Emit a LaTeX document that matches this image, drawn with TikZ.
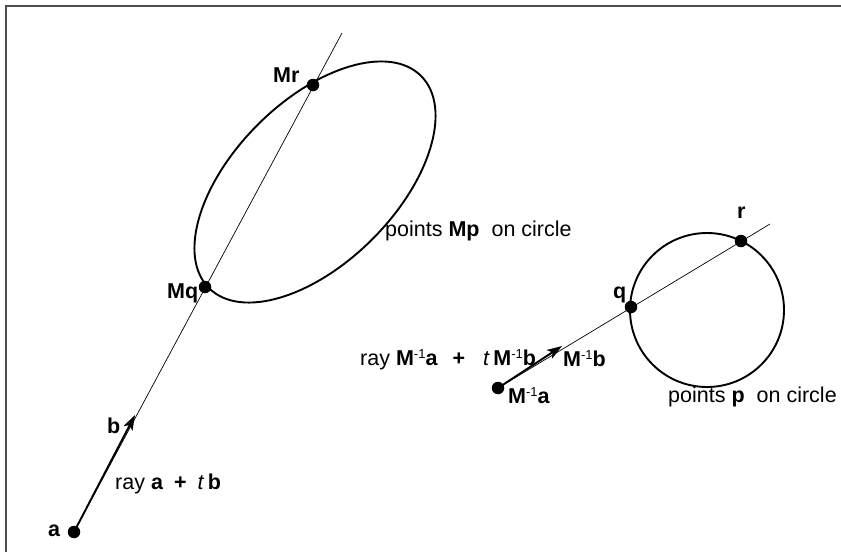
\documentclass[tikz,border=0pt]{standalone}
\usepackage{fontspec}
\setmainfont{Liberation Sans}
\usetikzlibrary{arrows.meta}
\newcommand\supm{\raisebox{6.5pt}{\fontsize{13}{13}\selectfont -1}}
\begin{document}
\begin{tikzpicture}[x=1pt,y=-1pt,
  dot/.style={circle,fill=black,inner sep=0pt,minimum size=12.5pt},
  lbl/.style={anchor=base west,inner sep=0pt,font=\fontsize{21.5}{26}\selectfont},
  thinray/.style={line width=0.7pt},
  vec/.style={line width=1.9pt,-{Stealth[length=15pt,width=10pt,inset=3.5pt]}},
  curve/.style={line width=1.9pt},
  frame/.style={line width=1.5pt,draw=black!70}]
\useasboundingbox (0,0) rectangle (841,552);
% frame
\coordinate (f1) at (841,6);
\coordinate (f2) at (6,6);
\coordinate (f3) at (6,552);
\draw[frame] (f1) -- (f2) -- (f3);
% left: ellipse and ray
\draw[curve, shift={(315,182)}, rotate=45] (0,0) ellipse [x radius=150pt, y radius=81pt];
\coordinate (topend) at (342,33);
\coordinate (btip) at (135,415);
\node[dot] (a) at (74,532) {};
\node[dot] (Mq) at (205,287) {};
\node[dot] (Mr) at (313,85) {};
\draw[thinray] (a.center) -- (topend);
\draw[vec] (a.center) -- (btip);
% right: circle and ray
\draw[curve] (707,310) circle [radius=77pt];
\coordinate (rend) at (770,224);
\coordinate (itip) at (562,346);
\node[dot] (ia) at (498,388) {};
\node[dot] (q) at (631,307) {};
\node[dot] (r) at (741,241) {};
\draw[thinray] (ia.center) -- (rend);
\draw[vec] (ia.center) -- (itip);
% labels
\node[lbl] (la) at (48,536) {\textbf{a}};
\node[lbl] (lb) at (107,433) {\textbf{b}};
\node[lbl] (lray) at (115,489) {ray \textbf{a}\hspace{11pt}\textbf{+}\hspace{11pt}\textit{t}\,\textbf{b}};
\node[lbl] (lMr) at (273,82) {\textbf{Mr}};
\node[lbl] (lMq) at (167,298) {\textbf{Mq}};
\node[lbl] (lMp) at (385,236) {points \textbf{Mp}\hspace{12pt}on circle};
\node[lbl] (lr) at (737,218) {\textbf{r}};
\node[lbl] (lq) at (613,298) {\textbf{q}};
\node[lbl] (lray2) at (360,365) {ray \textbf{M}\supm\textbf{a}\hspace{15pt}\textbf{+}\hspace{18pt}\textit{t}\,\textbf{M}\supm\textbf{b}};
\node[lbl] (lMb) at (563,366) {\textbf{M}\supm\textbf{b}};
\node[lbl] (lMa) at (508,403) {\textbf{M}\supm\textbf{a}};
\node[lbl] (lp) at (668,402) {points \textbf{p}\hspace{12pt}on circle};
\end{tikzpicture}
\end{document}
